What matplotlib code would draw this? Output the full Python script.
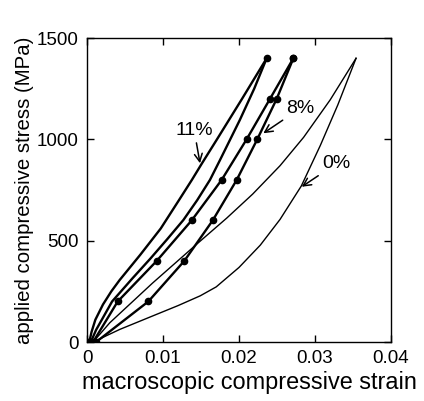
import matplotlib
matplotlib.use('Agg')
import matplotlib.pyplot as plt

plt.rcParams['font.family'] = ['Liberation Sans', 'DejaVu Sans']

# 0% : loading (lower) and unloading (upper) branches #
strain_0_low = [0.0008, 0.0043, 0.0086, 0.0120, 0.0149, 0.0170, 0.0200, 0.0228, 0.0254, 0.0282, 0.0307, 0.0330, 0.0354]
stress_0_low = [0, 62, 128, 180, 228, 272, 368, 478, 605, 770, 970, 1170, 1400]
strain_0_up = [0.0008, 0.0030, 0.0086, 0.0145, 0.0184, 0.0218, 0.0254, 0.0285, 0.0320, 0.0354]
stress_0_up = [0, 95, 290, 485, 612, 730, 870, 1010, 1195, 1400]

# 11% : two plain branches, dot at the peak #
strain_11_out = [0.0003, 0.0006, 0.0011, 0.0021, 0.0032, 0.0043, 0.0070, 0.0097, 0.0121, 0.0138, 0.0151, 0.0171, 0.0204, 0.02364]
stress_11_out = [0, 50, 110, 185, 250, 306, 430, 560, 700, 800, 880, 1000, 1200, 1400]
strain_11_in = [0.0005, 0.0012, 0.0033, 0.0060, 0.0083, 0.0105, 0.01268, 0.0145, 0.01618, 0.0175, 0.0201, 0.0220, 0.02364]
stress_11_in = [0, 60, 200, 315, 410, 505, 602, 700, 800, 898, 1095, 1250, 1400]

# 8% : measured points every 200 MPa #
stress_8 = [0, 200, 400, 600, 800, 1000, 1200, 1400]
strain_8_left = [0.0008, 0.00404, 0.00917, 0.01377, 0.01772, 0.0210, 0.02408, 0.02715]
strain_8_right = [0.0012, 0.00807, 0.0128, 0.01654, 0.0197, 0.0224, 0.02496, 0.02715]

xticks = [0, 0.01, 0.02, 0.03, 0.04]
xticklabels = ['0', '0.01', '0.02', '0.03', '0.04']
yticks = [0, 500, 1000, 1500]

fig = plt.figure(figsize=(4.24, 4.01), dpi=100)
ax = fig.add_axes([0.2052, 0.1471, 0.717, 0.7581])

ax.plot(strain_0_low, stress_0_low, c='k', lw=1.0)
ax.plot(strain_0_up, stress_0_up, c='k', lw=1.0)
ax.plot(strain_11_out, stress_11_out, c='k', lw=1.7)
ax.plot(strain_11_in, stress_11_in, c='k', lw=1.7)
ax.plot([strain_11_in[0], strain_11_in[-1]], [stress_11_in[0], stress_11_in[-1]], 'o', c='k', ms=4.5, ls='none')
ax.plot(strain_8_left, stress_8, 'o-', c='k', lw=1.7, ms=4.5)
ax.plot(strain_8_right, stress_8, 'o-', c='k', lw=1.7, ms=4.5)
ax.plot([0.0, 0.0003], [0, 0], 'o', c='k', ms=4.5)

# Labels with arrows #
arrow = dict(arrowstyle='->', color='k', lw=1.1, shrinkA=1, shrinkB=0)
ax.annotate('11%', xy=(0.01487, 882), xytext=(0.0141, 1045), ha='center', va='center', fontsize=14, arrowprops=arrow)
ax.annotate('8%', xy=(0.0232, 1030), xytext=(0.0281, 1154), ha='center', va='center', fontsize=14, arrowprops=arrow)
ax.annotate('0%', xy=(0.02825, 766), xytext=(0.0328, 880), ha='center', va='center', fontsize=14, arrowprops=arrow)

ax.set_xlim(0, 0.04)
ax.set_ylim(0, 1500)
ax.set_xticks(xticks)
ax.set_xticklabels(xticklabels)
ax.set_yticks(yticks)
ax.tick_params(direction='in', top=True, right=True, length=5, width=1, labelsize=13.5, pad=6)
for s in ax.spines.values():
    s.set_linewidth(1.0)
ax.set_xlabel('macroscopic compressive strain', fontsize=16.9, labelpad=3)
ax.xaxis.set_label_coords(0.533, -0.095)
ax.set_ylabel('applied compressive stress (MPa)', fontsize=14.7, labelpad=2)

fig.savefig('out.png', dpi=100)
